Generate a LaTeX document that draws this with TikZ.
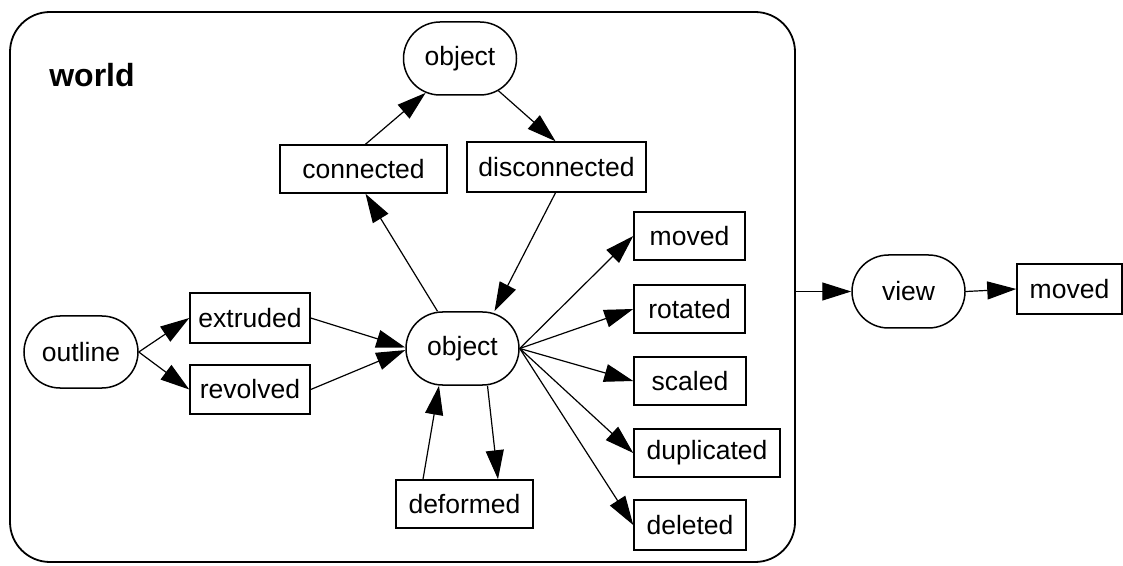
\documentclass[tikz,border=0pt]{standalone}
\usepackage{fontspec}
\setmainfont{Liberation Sans}
\usetikzlibrary{shapes.misc,arrows.meta}
\begin{document}
\begin{tikzpicture}[x=0.5pt,y=-0.5pt,
  every node/.style={font=\fontsize{13.25}{15}\selectfont, inner sep=2pt},
  box/.style={draw, line width=0.75pt, rectangle, minimum height=24pt},
  pill/.style={draw, line width=0.75pt, rounded rectangle, minimum height=36.5pt, minimum width=60.5pt},
  arr/.style={line width=0.6pt, -{Triangle[length=14.5pt,width=9pt]}}
]
\useasboundingbox[fill=white] (0,0) rectangle (1123,566);
\node[draw, line width=0.9pt, rounded corners=20pt, minimum width=392.5pt, minimum height=275pt] (world) at (402.5,287) {};
\node[font=\fontsize{16}{18}\selectfont\bfseries] (wlabel) at (92,75) {world};

\node[pill] (obj1) at (460,58.5) {object};
\node[box, minimum width=83.5pt] (conn) at (363.5,169) {connected};
\node[box, minimum width=89.5pt, minimum height=25pt] (disc) at (556.5,167) {disconnected};
\node[pill] (obj2) at (462.5,348.5) {object};
\node[pill, minimum width=61pt, minimum height=36pt] (outline) at (81,352) {outline};
\node[box, minimum width=60pt, minimum height=25pt] (extr) at (250,318) {extruded};
\node[box, minimum width=60pt, minimum height=24.5pt] (revo) at (250,389.5) {revolved};
\node[box, minimum width=68.5pt] (defo) at (464.5,504) {deformed};
\node[box, minimum width=55.5pt] (moved) at (689.5,236) {moved};
\node[box, minimum width=55.5pt] (rot) at (689.5,309) {rotated};
\node[box, minimum width=56pt] (scal) at (690,381) {scaled};
\node[box, minimum width=73pt] (dup) at (707,453) {duplicated};
\node[box, minimum width=56pt, minimum height=25pt] (del) at (690,525) {deleted};
\node[pill] (view) at (908.5,291.5) {view};
\node[box, minimum width=52.5pt, minimum height=25pt] (moved2) at (1069.5,289) {moved};

\draw[arr] ([xshift=1pt]conn.north) -- (obj1.225);
\draw[arr] (obj1.320) -- ([xshift=-0.5pt]disc.north);
\draw[arr] ([xshift=-12.5pt]obj2.north) -- ([xshift=1pt]conn.south);
\draw[arr] ([xshift=-0.5pt]disc.south) -- ([xshift=16pt]obj2.north);
\draw[arr] (outline.east) -- (extr.west);
\draw[arr] (outline.east) -- (revo.west);
\draw[arr] (extr.east) -- ([yshift=0.5pt]obj2.west);
\draw[arr] (revo.east) -- ([yshift=-0.8pt]obj2.west);
\draw[arr] ([xshift=-20.75pt]defo.north) -- ([xshift=-11.75pt]obj2.south);
\draw[arr] ([xshift=12.5pt]obj2.south) -- ([xshift=16.75pt]defo.north);
\draw[arr] (obj2.east) -- (moved.west);
\draw[arr] (obj2.east) -- (rot.west);
\draw[arr] (obj2.east) -- (scal.west);
\draw[arr] (obj2.east) -- (dup.west);
\draw[arr] (obj2.east) -- (del.west);
\draw[arr] (world.east |- view.west) -- (view.west);
\draw[arr] (view.east) -- (moved2.west);
\end{tikzpicture}
\end{document}
